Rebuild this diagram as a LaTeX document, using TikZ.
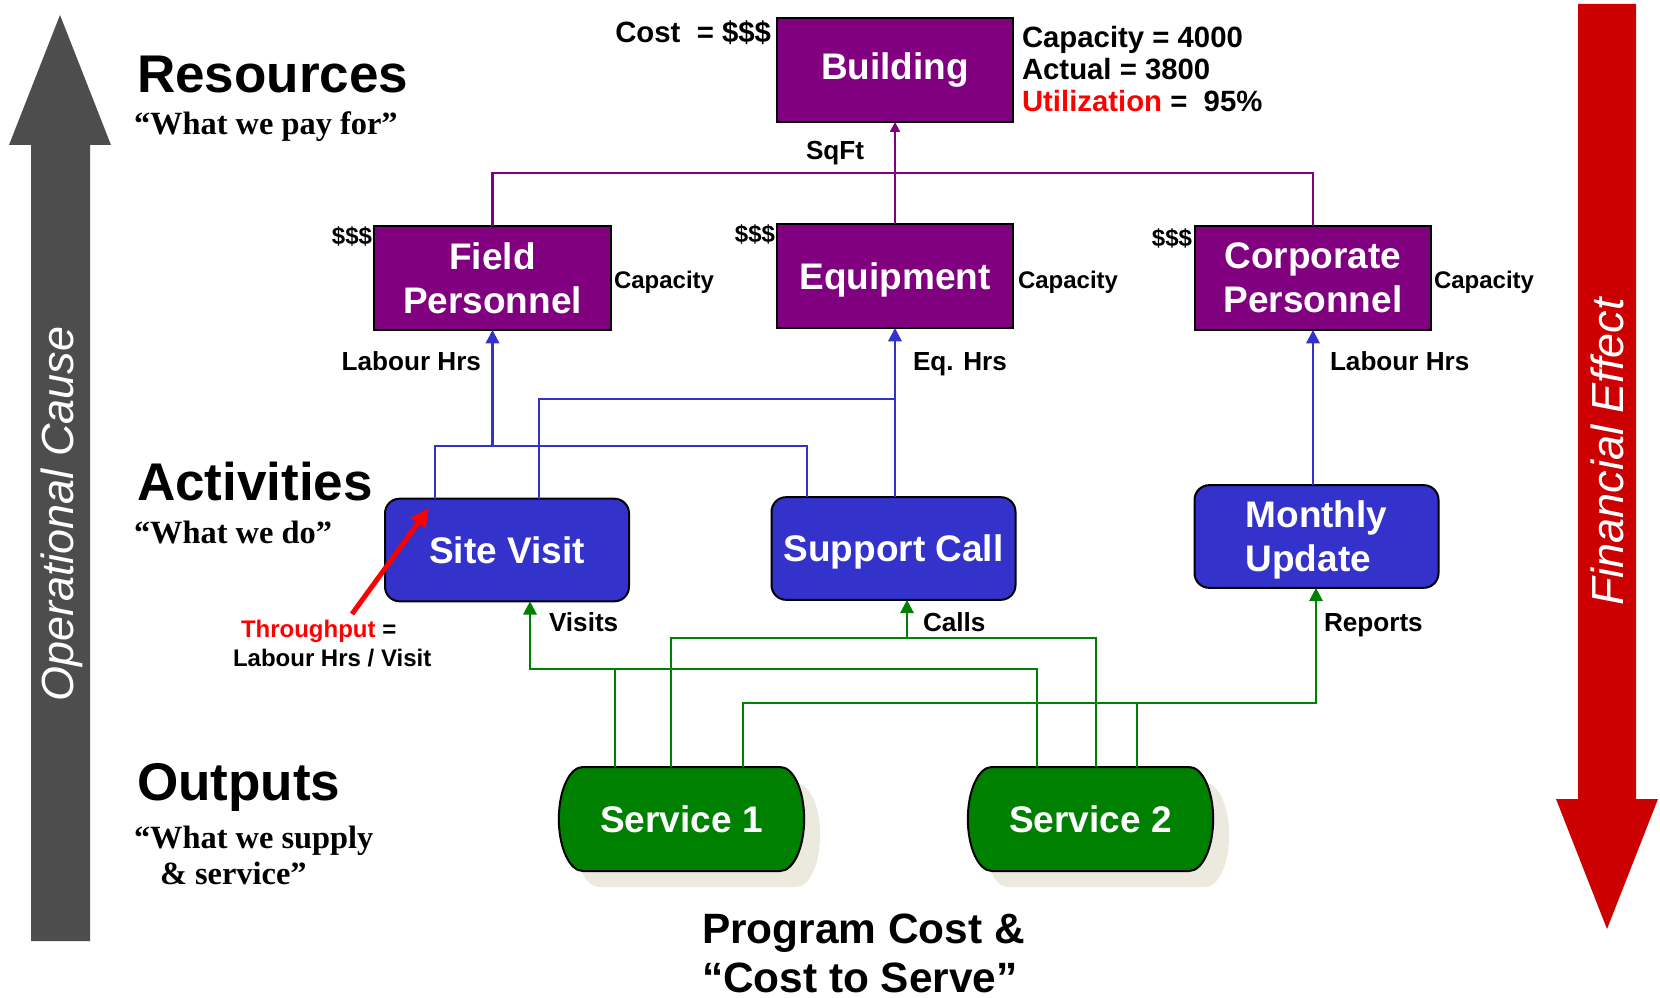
\documentclass[tikz,border=0pt]{standalone}
\usepackage{fontspec}
\setmainfont{Liberation Sans}
\newfontfamily\quotefont{Liberation Serif}
\usetikzlibrary{arrows.meta,calc,backgrounds}

\definecolor{respurple}{HTML}{800080}
\definecolor{actblue}{HTML}{3333CC}
\definecolor{outgreen}{HTML}{008000}
\definecolor{causegray}{HTML}{4D4D4D}
\definecolor{effectred}{HTML}{CC0000}
\definecolor{shadowtan}{HTML}{ECE9DF}
\definecolor{notered}{HTML}{FF0000}

\tikzset{
  every node/.style={inner sep=0pt, outer sep=0pt},
  heading/.style={anchor=base west, font=\fontsize{39.8pt}{47pt}\selectfont\bfseries},
  subhead/.style={anchor=base west, font=\quotefont\bfseries\fontsize{24.3pt}{29pt}\selectfont},
  boxfont/.style={font=\fontsize{27.75pt}{33pt}\selectfont\bfseries},
  resbox/.style={boxfont, draw=black, line width=1.5pt, fill=respurple, text=white,
    align=center, minimum width=177.5pt, minimum height=78pt},
  actbox/.style={boxfont, draw=black, line width=1.5pt, fill=actblue, text=white,
    align=center, rounded corners=11pt, minimum width=183pt, minimum height=77pt},
  svcbox/.style={boxfont, text=white, minimum width=184pt, minimum height=78pt},
  note/.style={font=\fontsize{18pt}{21pt}\selectfont\bfseries},
  flowlabel/.style={anchor=base west, font=\fontsize{19.6pt}{23pt}\selectfont\bfseries},
  statline/.style={anchor=base west, font=\fontsize{22pt}{24pt}\selectfont\bfseries},
  bigcaption/.style={anchor=base west, font=\fontsize{31.8pt}{37pt}\selectfont\bfseries},
  axislabel/.style={rotate=90, text=white, font=\itshape\fontsize{33.75pt}{40pt}\selectfont},
  pline/.style={draw=respurple, line width=1.6pt},
  bline/.style={draw=actblue, line width=1.8pt},
  gline/.style={draw=outgreen, line width=1.8pt},
  flowhead/.style={-{Triangle[width=10pt,length=10pt]}},
  smallhead/.style={-{Triangle[width=7.5pt,length=7.5pt]}},
}

\begin{document}
\begin{tikzpicture}[x=0.75pt, y=-0.75pt]
\useasboundingbox (0,0) rectangle (1660,998);

% side arrows: operational cause (up) and financial effect (down)
\fill[causegray] (31,941) -- (31,145) -- (9,145) -- (60,15) -- (111,145)
  -- (90,145) -- (90,941) -- cycle;
\fill[effectred] (1578,4) -- (1636,4) -- (1636,799) -- (1658,799) -- (1607,929)
  -- (1556,799) -- (1578,799) -- cycle;
\node[axislabel] (opcause) at (62,514) {Operational Cause};
\node[axislabel] (fineffect) at (1607,452) {Financial Effect};

% level headings
\node[heading] (reshead) at (137,93) {Resources};
\node[subhead] (resq) at (134,135) {“What we pay for”};
\node[heading] (acthead) at (137,500) {Activities};
\node[subhead] (actq) at (134,543) {“What we do”};
\node[heading] (outhead) at (137,800) {Outputs};
\node[subhead] (outq1) at (134,848) {“What we supply};
\node[subhead] (outq2) at (160,884) {\& service”};

% resources
\node[resbox] (building) at (895,70) {Building};
\node[resbox] (field) at (492.5,278) {Field\\Personnel};
\node[resbox, text depth=0pt] (equip) at (895,276) {Equipment};
\node[resbox] (corp) at (1313,278) {Corporate\\Personnel};

% activities
\node[actbox] (sv) at (507,550) {Site Visit};
\node[actbox, text depth=0pt] (sc) at (893.5,548.5) {Support Call};
\node[actbox, align=left, text depth=0pt] (mu) at (1316.5,536.5) {Monthly\\Update};

% outputs
\node[svcbox] (s1) at (681.5,819) {Service 1};
\node[svcbox] (s2) at (1090.5,819) {Service 2};

\begin{scope}[on background layer]
  \fill[white] (0,0) rectangle (1660,998);
  \foreach \n in {s1,s2}{
    \fill[shadowtan] ($(\n.north west)+(40,16)$) -- ($(\n.north east)+(-8,16)$)
      arc[start angle=90, end angle=-90, x radius=18pt, y radius=39pt]
      -- ($(\n.south west)+(40,16)$)
      arc[start angle=270, end angle=90, x radius=18pt, y radius=39pt] -- cycle;
    \draw[fill=outgreen, line width=1.5pt] ($(\n.north west)+(24,0)$) -- ($(\n.north east)+(-24,0)$)
      arc[start angle=90, end angle=-90, x radius=18pt, y radius=39pt]
      -- ($(\n.south west)+(24,0)$)
      arc[start angle=270, end angle=90, x radius=18pt, y radius=39pt] -- cycle;
  }
\end{scope}

% building figures
\node[statline, anchor=base east] (costnote) at (771,43) {Cost\ \ = \$\$\$};
\node[statline] (capnote) at (1022,48) {Capacity = 4000};
\node[statline] (actnote) at (1022,80) {Actual = 3800};
\node[statline] (utilnote) at (1022,112) {\textcolor{notered}{Utilization} =\ \ 95\%};

% resource cost and capacity notes
\node[note, anchor=base east] (fieldcost) at (372,245) {\$\$\$};
\node[note, anchor=base east] (equipcost) at (775,243) {\$\$\$};
\node[note, anchor=base east] (corpcost) at (1192,247) {\$\$\$};
\node[note, anchor=base west] (fieldcap) at (614,289) {Capacity};
\node[note, anchor=base west] (equipcap) at (1018,289) {Capacity};
\node[note, anchor=base west] (corpcap) at (1434,289) {Capacity};

% driver labels
\node[flowlabel] (sqft) at (806,160) {SqFt};
\node[flowlabel, anchor=base east] (labour1) at (481,371) {Labour Hrs};
\node[flowlabel] (eqhrs) at (913,371) {Eq. Hrs};
\node[flowlabel] (labour2) at (1330,371) {Labour Hrs};
\node[flowlabel] (visits) at (549,631) {Visits};
\node[flowlabel] (calls) at (923,631) {Calls};
\node[flowlabel] (reports) at (1324,631) {Reports};

% throughput note
\node[note, anchor=base west] (tput) at (241,637) {\textcolor{notered}{Throughput} =};
\node[note, anchor=base west] (tputdef) at (233,666) {Labour Hrs / Visit};

% program cost caption
\node[bigcaption] (prog1) at (702,943) {Program Cost \&};
\node[bigcaption] (prog2) at (702,992) {“Cost to Serve”};

% resources -> building (square footage)
\coordinate (rbus) at (895,173);
\draw[pline] (field.north) |- (rbus) -| (corp.north);
\draw[pline, smallhead] (equip.north) -- (building.south);

% activities -> resources
\coordinate (j1) at (435,446);
\coordinate (j2) at (807,446);
\draw[bline] (sv.north -| j1) -- (j1) -- (j2) -- (sc.north -| j2);
\draw[bline, flowhead] (field.south |- j1) -- (field.south);
\coordinate (k1) at (539,399);
\draw[bline] (sv.north -| k1) -- (k1) -- (equip.south |- k1);
\draw[bline, flowhead] (sc.north -| equip.south) -- (equip.south);
\draw[bline, flowhead] (mu.north -| corp.south) -- (corp.south);

% outputs -> activities
\coordinate (v1) at (530,669);
\coordinate (v2) at (1037,669);
\coordinate (v3) at (615,669);
\draw[gline, flowhead] (s2.north -| v2) -- (v2) -- (v1) -- (sv.south -| v1);
\draw[gline] (s1.north -| v3) -- (v3);
\coordinate (c1) at (671,638);
\coordinate (c2) at (1096,638);
\coordinate (c0) at (907,638);
\draw[gline] (s1.north -| c1) -- (c1) -- (c2) -- (s2.north -| c2);
\draw[gline, flowhead] (c0) -- (sc.south -| c0);
\coordinate (r1) at (743,703);
\coordinate (r2) at (1316,703);
\coordinate (r3) at (1137,703);
\draw[gline, flowhead] (s1.north -| r1) -- (r1) -- (r2) -- (mu.south -| r2);
\draw[gline] (s2.north -| r3) -- (r3);

% throughput pointer
\coordinate (tptail) at (352,614);
\coordinate (tptip) at (429,508);
\draw[notered, line width=3.75pt, -{Triangle[width=13pt,length=14pt]}] (tptail) -- (tptip);
\end{tikzpicture}
\end{document}
